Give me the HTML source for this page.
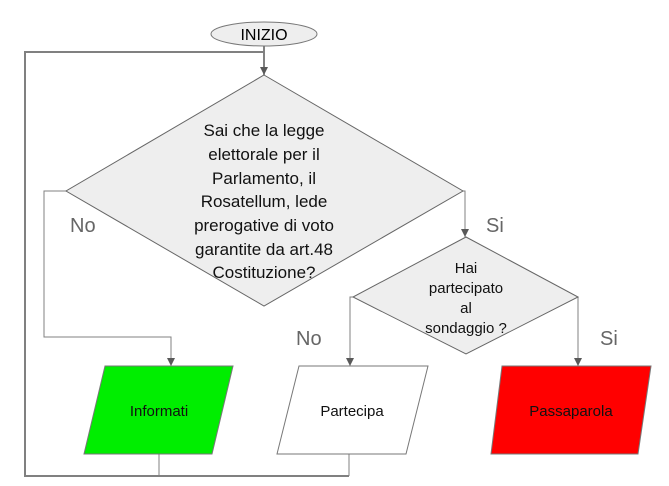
<!DOCTYPE html>
<html><head><meta charset="utf-8"><style>
html,body{margin:0;padding:0;background:#fff;}
svg{display:block;font-family:"Liberation Sans",sans-serif;}
</style></head><body>
<svg width="669" height="486" viewBox="0 0 669 486" xmlns="http://www.w3.org/2000/svg">
<defs><marker id="a" markerWidth="8" markerHeight="8" refX="8" refY="4" orient="auto" markerUnits="userSpaceOnUse"><path d="M0,0 L8,4 L0,8 z" fill="#595959"/></marker></defs>
<g fill="none" stroke="#595959">
<polyline points="264,46 264,75" stroke-width="1.5" marker-end="url(#a)"/>
<polyline points="264,52 25,52 25,476 349,476" stroke-width="2" stroke="#808080"/>
<polyline points="159,454 159,476" stroke="#808080"/>
<polyline points="349,454 349,476" stroke="#808080"/>
<polyline points="66,191 44,191 44,337 171,337 171,366" stroke="#808080" marker-end="url(#a)"/>
<polyline points="463,191 465,191 465,237" stroke="#808080" marker-end="url(#a)"/>
<polyline points="353,297 350,297 350,366" stroke="#808080" marker-end="url(#a)"/>
<polyline points="578,297 578,366" stroke="#808080" marker-end="url(#a)"/>
</g>
<ellipse cx="264" cy="34" rx="53" ry="12" fill="#eeeeee" stroke="#777"/>
<text x="264" y="40" font-size="16" text-anchor="middle">INIZIO</text>
<polygon points="264,75 463,191 264,306 66,191" fill="#eeeeee" stroke="#666"/>
<g font-size="17" text-anchor="middle" fill="#111">
<text x="264" y="136">Sai che la legge</text>
<text x="264" y="160">elettorale per il</text>
<text x="264" y="184">Parlamento, il</text>
<text x="264" y="207">Rosatellum, lede</text>
<text x="264" y="231">prerogative di voto</text>
<text x="264" y="255">garantite da art.48</text>
<text x="264" y="278">Costituzione?</text>
</g>
<polygon points="466,237 578,297 466,354 353,297" fill="#eeeeee" stroke="#666"/>
<g font-size="15" text-anchor="middle" fill="#111">
<text x="466" y="273">Hai</text>
<text x="466" y="293">partecipato</text>
<text x="466" y="313">al</text>
<text x="466" y="333">sondaggio ?</text>
</g>
<g font-size="20" fill="#666">
<text x="70" y="232">No</text>
<text x="486" y="232">Si</text>
<text x="296" y="345">No</text>
<text x="600" y="345">Si</text>
</g>
<polygon points="105,366 233,366 212,454 84,454" fill="#00ee00" stroke="#777"/>
<polygon points="299,366 428,366 406,454 277,454" fill="#fff" stroke="#777"/>
<polygon points="502,366 651,366 638,454 491,454" fill="#ff0000" stroke="#777"/>
<g font-size="15" text-anchor="middle" fill="#111">
<text x="159" y="416">Informati</text>
<text x="352" y="416">Partecipa</text>
<text x="571" y="416">Passaparola</text>
</g>
</svg>
</body></html>
